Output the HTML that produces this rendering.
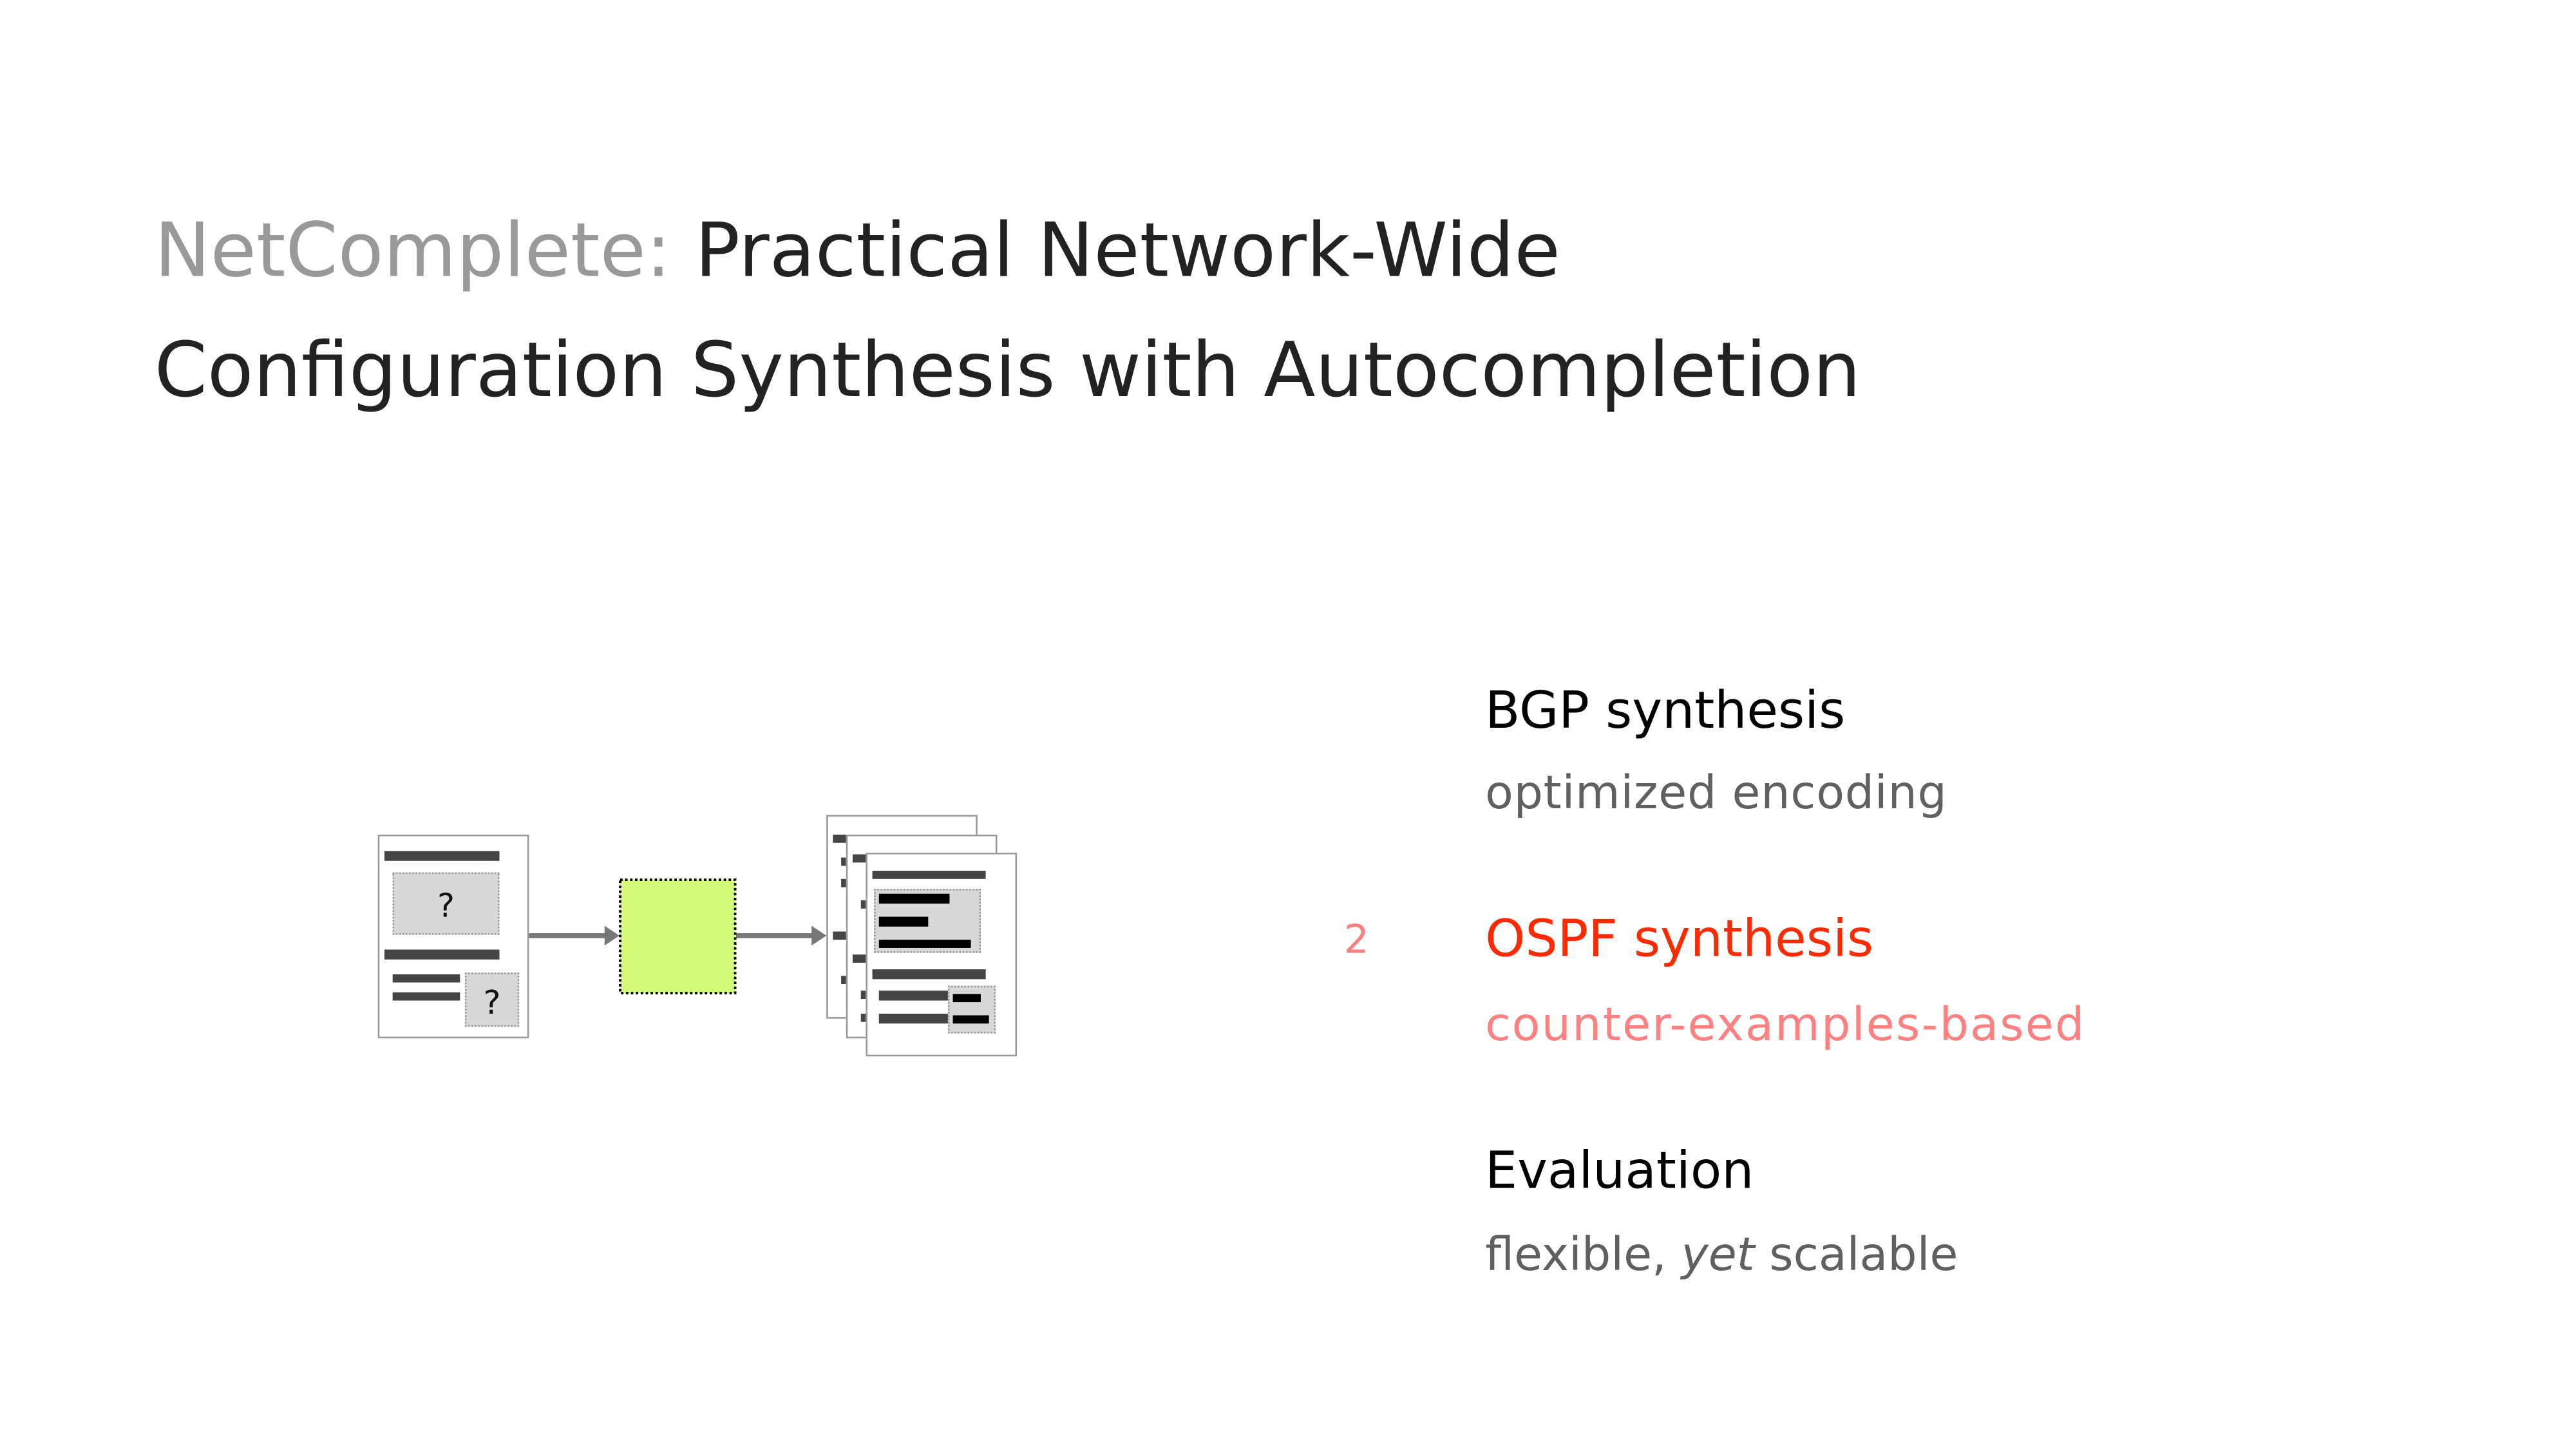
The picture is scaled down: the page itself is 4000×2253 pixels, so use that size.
<!DOCTYPE html>
<html><head><meta charset="utf-8"><style>
html,body{margin:0;padding:0;background:#fff;}
body{width:4000px;height:2250px;overflow:hidden;position:relative;}
#s{position:absolute;left:0;top:0;width:1570px;height:883px;transform:scale(2.551);transform-origin:0 0;font-family:"DejaVu Sans","Liberation Sans",sans-serif;}
.t{position:absolute;white-space:nowrap;line-height:1;}
.a{position:absolute;}
.doc{position:absolute;background:#fff;border:1px solid #999;box-sizing:border-box;}
.bar{position:absolute;background:#444;}
.blk{position:absolute;background:#000;}
.gb{position:absolute;background:#d8d8d8;border:1px dotted #999;box-sizing:border-box;font-size:20px;text-align:center;color:#111;}
</style></head><body><div id="s">
<div class="t" style="left:94px;top:130px;font-size:45.5px;color:#222;"><span style="color:#999">NetComplete:</span> Practical Network-Wide</div>
<div class="t" style="left:94px;top:202px;font-size:46px;color:#222;">Configuration Synthesis with Autocompletion</div>

<!-- left doc -->
<div class="doc" style="left:230px;top:508px;width:92px;height:124px;"></div>
<div class="bar" style="left:234px;top:518px;width:70px;height:6px;"></div>
<div class="gb" style="left:239px;top:531px;width:65px;height:38px;line-height:38px;">?</div>
<div class="bar" style="left:234px;top:578px;width:70px;height:6px;"></div>
<div class="bar" style="left:239px;top:593px;width:41px;height:5px;"></div>
<div class="bar" style="left:239px;top:604px;width:41px;height:5px;"></div>
<div class="gb" style="left:283px;top:592px;width:33px;height:33px;line-height:35px;">?</div>

<svg class="a" style="left:0;top:0" width="1570" height="883">
<line x1="322" y1="569.5" x2="370" y2="569.5" stroke="#777" stroke-width="3"/>
<polygon points="368,563.5 377,569.5 368,575.5" fill="#777"/>
<line x1="448" y1="569.5" x2="496" y2="569.5" stroke="#777" stroke-width="3"/>
<polygon points="494,563.5 503,569.5 494,575.5" fill="#777"/>
<rect x="377.5" y="535.5" width="70" height="69" fill="#d3fb77" stroke="#000" stroke-width="1.5" stroke-dasharray="1.5,1.5"/>
</svg>

<!-- stacked docs -->
<div class="doc" style="left:503px;top:496px;width:92px;height:124px;"></div>
<div class="bar" style="left:507px;top:508px;width:8px;height:5px;"></div>
<div class="bar" style="left:507px;top:567px;width:8px;height:5px;"></div>
<div class="bar" style="left:512px;top:522px;width:3px;height:5px;"></div>
<div class="bar" style="left:512px;top:535px;width:3px;height:5px;"></div>
<div class="bar" style="left:512px;top:594px;width:3px;height:5px;"></div>
<div class="doc" style="left:515px;top:508px;width:92px;height:124px;"></div>
<div class="bar" style="left:519px;top:520px;width:8px;height:5px;"></div>
<div class="bar" style="left:519px;top:581px;width:8px;height:5px;"></div>
<div class="bar" style="left:524px;top:548px;width:3px;height:5px;"></div>
<div class="bar" style="left:524px;top:603px;width:3px;height:5px;"></div>
<div class="bar" style="left:524px;top:617px;width:3px;height:5px;"></div>
<div class="doc" style="left:527px;top:519px;width:92px;height:124px;"></div>
<div class="bar" style="left:531px;top:530px;width:69px;height:5px;"></div>
<div class="gb" style="left:532px;top:541px;width:65px;height:39px;"></div>
<div class="blk" style="left:535px;top:544px;width:43px;height:6px;"></div>
<div class="blk" style="left:535px;top:558px;width:30px;height:6px;"></div>
<div class="blk" style="left:535px;top:572px;width:56px;height:5px;"></div>
<div class="bar" style="left:531px;top:590px;width:69px;height:6px;"></div>
<div class="bar" style="left:535px;top:603px;width:42px;height:6px;"></div>
<div class="bar" style="left:535px;top:617px;width:42px;height:6px;"></div>
<div class="gb" style="left:577px;top:600px;width:29px;height:29px;"></div>
<div class="blk" style="left:580px;top:605px;width:17px;height:5px;"></div>
<div class="blk" style="left:580px;top:618px;width:22px;height:5px;"></div>

<!-- right text -->
<div class="t" style="left:904px;top:418px;font-size:31px;color:#000;">BGP synthesis</div>
<div class="t" style="left:904px;top:469px;font-size:28px;color:#606060;letter-spacing:0.3px;">optimized encoding</div>
<div class="t" style="left:818px;top:560px;font-size:24px;color:#ff8080;">2</div>
<div class="t" style="left:904px;top:557px;font-size:31px;color:#ff2a00;">OSPF synthesis</div>
<div class="t" style="left:904px;top:610px;font-size:28px;color:#ff8080;letter-spacing:0.9px;">counter-examples-based</div>
<div class="t" style="left:904px;top:698px;font-size:31px;color:#000;">Evaluation</div>
<div class="t" style="left:904px;top:750px;font-size:28px;color:#606060;">flexible, <i>yet</i> scalable</div>
</div></body></html>
